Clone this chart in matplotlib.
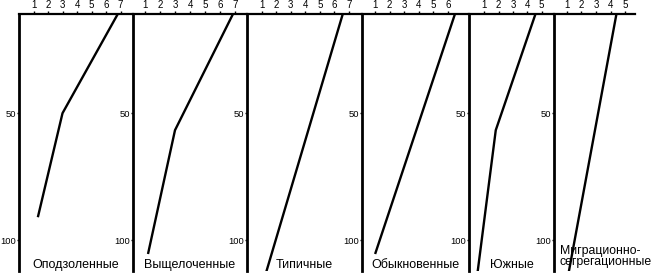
import matplotlib
matplotlib.use("Agg")
import matplotlib.pyplot as plt

plt.rcParams['font.family'] = ['Liberation Sans', 'DejaVu Sans']

# Data (depth in cm vs value)
names = ["Оподзоленные", "Выщелоченные", "Типичные", "Обыкновенные", "Южные",
         "Миграционно-\nсегрегационные"]
p1_x = [6.85, 3.0, 1.3]
p1_y = [10.5, 50, 91]
p2_x = [6.9, 3.0, 1.2]
p2_y = [10.5, 56.7, 105.5]
p3_x = [6.6, 1.3]
p3_y = [10.5, 113]
p4_x = [6.5, 1.0]
p4_y = [10.5, 105.5]
p5_x = [4.6, 1.8, 0.5]
p5_y = [10.5, 56.7, 114]
p6_x = [4.4, 1.1]
p6_y = [10.5, 114]
xticks_list = [[1, 2, 3, 4, 5, 6, 7]] * 3 + [[1, 2, 3, 4, 5, 6]] + [[1, 2, 3, 4, 5]] * 2
yticks = [50, 100]

series = [(p1_x, p1_y), (p2_x, p2_y), (p3_x, p3_y), (p4_x, p4_y), (p5_x, p5_y), (p6_x, p6_y)]

W, H = 656, 276
fig = plt.figure(figsize=(W / 100, H / 100), dpi=100)

lefts = [19, 133, 247, 362, 469, 554]
rights = [133, 247, 362, 469, 554, 635]
xlims = [(0, 7.86), (0.2, 7.8), (0, 7.9), (0.1, 7.44), (-0.07, 5.87), (0.14, 5.65)]
top_px, bot_px = 14, 271
ylim = (112.2, 10.9)

for i in range(6):
    l, r = lefts[i], rights[i]
    ax = fig.add_axes([l / W, 1 - bot_px / H, (r - l) / W, (bot_px - top_px) / H])
    ax.set_facecolor('none')
    xs, ys = series[i]
    ax.plot(xs, ys, color='black', lw=1.7, solid_capstyle='butt')
    ax.set_xlim(*xlims[i])
    ax.set_ylim(*ylim)
    ax.xaxis.tick_top()
    ax.set_xticks(xticks_list[i])
    ax.set_yticks(yticks)
    ax.tick_params(axis='x', direction='out', length=2.5, width=1, pad=0.5, labelsize=7)
    ax.tick_params(axis='y', direction='out', length=1.5, width=1, pad=0.3, labelsize=6.8)
    ax.spines['right'].set_visible(False)
    ax.spines['bottom'].set_visible(False)
    ax.spines['left'].set_linewidth(2)
    ax.spines['top'].set_linewidth(1.6)
    if i < 5:
        ax.text(0.5, 0.025, names[i], transform=ax.transAxes, ha='center', va='center',
                fontsize=9)
    else:
        ax.text(0.07, 0.01, names[i], transform=ax.transAxes, ha='left', va='bottom',
                fontsize=8.8, linespacing=0.95, clip_on=False)

fig.savefig("out.png", dpi=100)
